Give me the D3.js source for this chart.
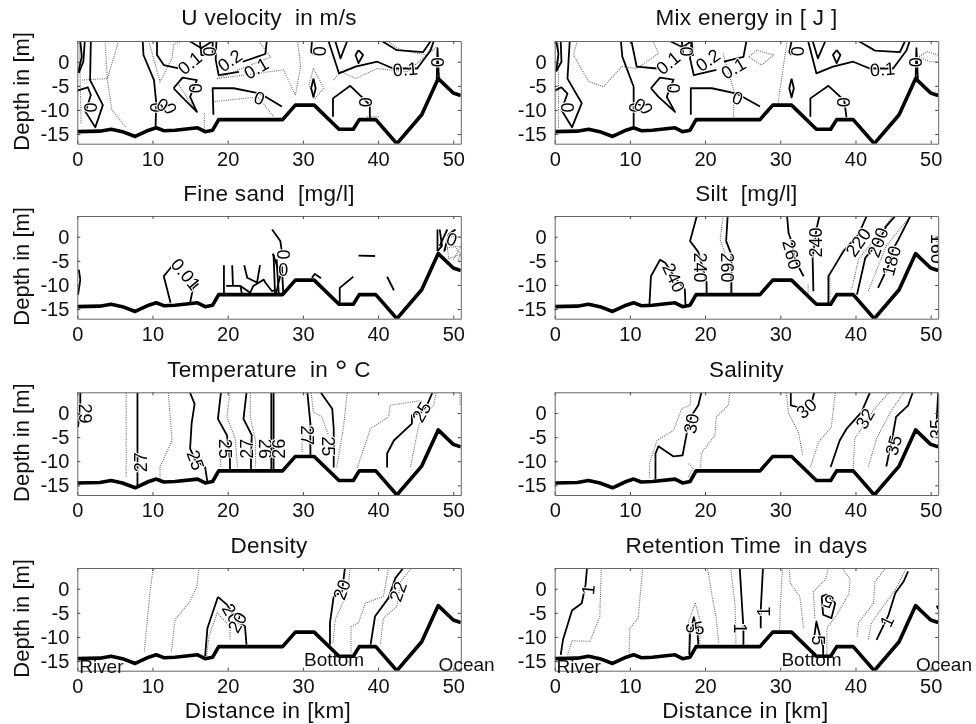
<!DOCTYPE html>
<html>
<head>
<meta charset="utf-8">
<script src="https://cdnjs.cloudflare.com/ajax/libs/d3/7.8.5/d3.min.js"></script>
<style type='text/css'>
  html, body { margin: 0; padding: 0; background: #fff; }
  svg { display: block; filter: blur(0.45px); }
  text { font-family: "Liberation Sans", Arial, sans-serif; fill: #111; }
  .title { font-size: 22.5px; letter-spacing: 0.3px; text-anchor: middle; white-space: pre; }
  .ylab { font-size: 22px; text-anchor: middle; }
  .xlab { font-size: 22.5px; letter-spacing: 0.4px; text-anchor: middle; }
  .tick text { font-size: 20px; }
  .domain { stroke: #666; }
  .tick line { stroke: #444; }
  .solid { fill: none; stroke: #000; stroke-width: 1.8; stroke-linejoin: round; }
  .dotted { fill: none; stroke: #666; stroke-width: 1.1; stroke-dasharray: 1 1.2; }
  .bed { fill: none; stroke: #000; stroke-width: 3.6; stroke-linejoin: round; }
  .clabel { font-size: 18px; text-anchor: middle; dominant-baseline: central; stroke: #fff; stroke-width: 2px; paint-order: stroke; fill: #000; }
  .place { font-size: 19px; }
</style>
</head>
<body>
<div id='chart'></div>
<script type='text/javascript'>
// river bed, same in every panel (km, m)
var bed = [[0,-14.5],[3,-14.4],[4.5,-14],[6,-14.5],[7.7,-15.5],[9.5,-14.2],[10.5,-13.7],[11.5,-14.3],[13,-14.2],[16,-13.7],[17,-14.5],[18,-14.2],[18.8,-12],[27.3,-12],[29,-9],[31.5,-9],[34.8,-14],[36.7,-14],[37.5,-12],[39.7,-12],[42.5,-17],[45.8,-11],[48,-3.5],[50,-6.5],[51,-7]];

// contours: km, depth
var uSolid = [
  [[0.4,4.3],[0.6,1],[0.1,-2.3]],
  [[1,4.3],[0.8,0],[0.2,-2.3]],
  [[1.8,4.3],[1.7,-3.8],[3.4,-9],[2.4,-13.6],[1.1,-10.4],[1.8,-6.9],[1.4,-5.3],[0,-6]],
  [[8.7,4.3],[8.8,1.4],[10.2,-3.8],[10.5,-8.6],[10.4,-13.8]],
  [[10.6,4.3],[10.6,1.4],[11.5,-0.7],[13.5,-1.4]],
  [[12.8,-5.5],[14,-3.3],[15.9,-3.8],[15,-7.3],[15.9,-10.4],[13.9,-7.3],[12.8,-5.5]],
  [[14.9,4.3],[16.5,2.8],[18,4.3]],
  [[16.3,4.3],[16.5,1.4],[18,1.4],[18,4.3]],
  [[18.5,4.3],[18.4,0.5],[18.8,-2.8],[21.5,-2.1]],
  [[25.2,4.3],[25,1.6],[22,0]],
  [[18.1,-11],[18,-5.5],[20.8,-5.5],[24.3,-6.6],[27.2,-9.3]],
  [[33.4,4.3],[34.8,-2.4],[37,-1],[39.9,0],[42,-1.4],[45.2,-1.4],[47,2.4],[47.4,4.3]],
  [[34.3,4.3],[35,0.7],[35.9,4.3]],
  [[40.5,4.3],[42.5,2.4],[46,2],[47,4.3]],
  [[37.4,2.4],[38,1.4],[37.4,-0.3],[37,1.4],[37.4,2.4]],
  [[31.2,4.3],[31.1,2],[31.6,1.4]],
  [[31.4,-3.5],[31.7,-5.5],[31.4,-7.3],[31.1,-5.5],[31.4,-3.5]],
  [[34,-11.4],[34,-7.6],[36.3,-5],[38.3,-8],[38.9,-9],[38.9,-11.8]],
  [[47.8,-3.5],[47.9,2.8],[48.1,-3.5]]
];
var uDotted = [
  [[0.3,4.3],[0.4,-5.5],[0.5,-12.8]],
  [[3.7,4.3],[4,-3.8],[4.6,-10],[6.4,-13.5]],
  [[0.6,-3.8],[4,-3.5],[5.5,4.3]],
  [[9.5,4.3],[11,-4.1],[12.6,0.7],[12.8,3.5],[13.9,4.3]],
  [[13.4,-4.5],[14.8,-8],[16,-10.4]],
  [[16.9,-10.7],[16.9,-14.5]],
  [[18.6,-3.5],[27.4,-1.7],[29,-6.9],[29.7,-1],[29.3,4.3]],
  [[18,-8.3],[24,-7.3],[26.1,-11.4]],
  [[24.1,4.3],[25.7,1],[18.6,-3.5]],
  [[34.1,-3.8],[35,-2],[37,-3.5],[39.9,-1.4],[43.8,-2.1],[47.8,3.1]],
  [[31.4,-1.4],[32.8,-5.5],[31.6,-7.6],[30.8,-4.8],[31.4,-1.4]],
  [[41.2,4.3],[43,2.4],[46.5,1.4],[47.4,4.3]],
  [[38.5,-11.4],[40.3,-11.4]]
];
var uLabels = [
  [1.7,-9.5,"0",90],[10.5,-9.5,"0",90],[12.3,-9.7,"0",65],[11.3,-9,"0",30],[15,-0.3,"0.1",-40],
  [15.6,-5.5,"0",90],[17.5,2.1,"0",90],[20.3,0.2,"0.2",-35],[23.8,-1.4,"0.1",-30],[24.2,-7.6,"0",20],
  [32.2,2.2,"0",90],[38.3,-8.4,"0",90],[43.6,-1.6,"0.1",-5],[47.8,-0.1,"0",90]
];

var mixSolid = [
  [[0.2,4.3],[0.5,1.7],[0.2,-2]],
  [[0.8,4.3],[0.9,0],[0.2,-2]],
  [[2,4.3],[1.7,-3.5],[3.6,-8.6],[2.3,-13.6],[0.9,-10],[1.7,-6.6],[0.9,-5.3],[0,-6]],
  [[8.8,4.3],[9,1],[10.5,-5.2],[10.5,-13.8]],
  [[10.2,4.3],[10.9,-1],[13.6,-1.4]],
  [[12.8,-5.5],[14,-3.3],[15.8,-3.7],[14.9,-7.3],[16,-10.4],[13.8,-7.3],[12.8,-5.5]],
  [[15.3,4.3],[17,3],[18.2,4.3]],
  [[16.9,4.3],[17.1,1.4],[18.4,1.4],[18.2,4.3]],
  [[18.2,4.3],[18,0.7],[18.5,-2.8],[21.5,-1.7]],
  [[25.5,4.3],[25.1,1],[22.5,0]],
  [[18.1,-11],[18.1,-5.5],[20.9,-5.5],[24.2,-6.6],[27.3,-9.3]],
  [[33.7,4.3],[34.8,-2.4],[37,-1],[39.7,0],[41.9,-1.4],[45,-1.4],[46.8,2.4],[47.2,4.3]],
  [[34.3,4.3],[35,0.7],[36,4.3]],
  [[40.4,4.3],[42.6,2.3],[45.9,2],[46.6,4.3]],
  [[37.5,2.4],[38,1.4],[37.5,-0.3],[37,1.4],[37.5,2.4]],
  [[31.5,4.3],[31.2,2],[31.5,1.4]],
  [[31.5,-3.5],[31.8,-5.5],[31.5,-7.4],[31.2,-5.5],[31.5,-3.5]],
  [[34,-11.4],[34,-7.6],[36.4,-5],[38.5,-8],[38.8,-11.5]],
  [[48,-3.5],[48.1,2.8],[48.3,-3.5]]
];
var mixDotted = [
  [[0.5,4.3],[0.5,-13.8]],
  [[3,4.3],[2.5,1.4],[4.5,-4.1],[6.5,-5.2],[8.9,-1],[10.9,-1.4],[13.8,1.7],[13.1,4.1]],
  [[22.4,1.7],[23.8,-5.9],[23.8,-11.4]],
  [[25.8,1],[27.5,-0.7],[29.1,1.4],[26.9,2.4],[25.8,1]],
  [[30.9,4.3],[29.7,-8.6]],
  [[51,1.4],[49.5,2.1],[48.4,1],[49.9,0],[51,0]]
];
var mixLabels = [
  [1.7,-9.5,"0",90],[10.7,-9.5,"0",90],[12.1,-9.7,"0",65],[11.3,-9,"0",30],[15.1,-0.3,"0.1",-40],
  [15.7,-5.5,"0",90],[17.5,2.1,"0",90],[20.4,0.3,"0.2",-35],[23.8,-1.4,"0.1",-30],[24.3,-7.6,"0",20],
  [32.2,2.2,"0",90],[38.3,-8.4,"0",90],[43.6,-1.6,"0.1",-5],[47.9,-0.1,"0",90]
];

var sandSolid = [
  [[0.2,-6.8],[0.4,-8.9],[0.1,-12]],
  [[12.4,-13.7],[11.5,-8.2],[12.8,-5.7]],
  [[15,-13.7],[15.4,-10.6],[16.1,-9.7]],
  [[19.5,-12],[19.5,-5.9]],
  [[20.6,-5.9],[20.7,-10.2]],
  [[22.2,-5.9],[22.6,-8.5],[23.9,-9.5],[24.3,-5.9]],
  [[19.8,-10.2],[21.7,-10.2],[23,-11.6],[23.4,-10.2],[24.8,-8.9],[25,-9.5],[25.9,-11.3],[26.3,-11]],
  [[21.7,-10.2],[21.9,-12]],
  [[26.1,-3.7],[26.3,-12]],
  [[26.5,-4.7],[26.8,-12]],
  [[27.2,-6.1],[27.4,-12]],
  [[26,-3.5],[27,-8],[26.4,-12]],
  [[25.9,1.5],[27,-0.9],[27.2,-3]],
  [[37.4,-3.9],[39.6,-4]],
  [[31.2,-8.5],[31.6,-7.7],[32.4,-8.6]],
  [[34.9,-13.7],[34.9,-10.6],[36.7,-8.3]],
  [[41.2,-8.3],[42.1,-11.1]],
  [[47.9,-3],[47.9,1.5]],
  [[48.2,1.5],[48.5,-1.9],[47.9,-3]],
  [[49.2,1.5],[48.2,-1.9]],
  [[50.3,1.5],[49.4,0.5],[48.8,-3]]
];
var sandDotted = [
  [[51,0],[49.4,0],[48.8,-3],[50,-1.5],[51,-3.7],[49.4,-4.5],[49.2,-2.2],[51,-2],[50,-4.8]],
  [[51,-3.7],[50.6,-5]]
];
var sandLabels = [
  [14.4,-7.8,"0.01",50],[27.3,-3.7,"0",90],[27.4,-6.8,"0",0],[49.8,-0.6,"0",20]
];

var siltSolid = [
  [[18.9,4.3],[18,-0.9],[19.1,-3.2],[19.6,-6],[20.2,-9.5],[20.2,-12]],
  [[12.6,-14],[12.8,-8.2],[14,-4.8],[14.7,-5.4],[16,-8.5],[17.3,-10.9],[17.4,-14.4]],
  [[23,4.3],[22.8,-0.9],[23.5,-3.7],[23.5,-9.5],[23.5,-12]],
  [[30.9,4.3],[31.1,0.8],[31.5,-1],[32,-5],[33.1,-8.2]],
  [[35.2,4.3],[34.8,1.5],[34.3,-4.4],[34.4,-11.3]],
  [[41.5,4.3],[40.4,0.5],[38.4,-3],[37.1,-6.4],[36.4,-8.2],[36.4,-14]],
  [[45.3,4.3],[44.1,2.2],[43,-1.2],[41.3,-4.4],[40.2,-12]],
  [[47.3,4.3],[45.7,-0.6],[45,-2.6],[44.4,-6],[43,-10.6]],
  [[50.8,0],[50.8,-1]]
];
var siltDotted = [
  [[22.4,4.3],[22,-0.6],[22.7,-3.7]],
  [[23.4,-9.5],[23.4,-12]],
  [[33.7,-9.9],[33.7,-12.3]],
  [[36.6,-8.2],[36.6,-14]],
  [[45,4.3],[40.4,-4.7],[39.5,-10.9]],
  [[47.3,4.3],[44.1,-1.9],[41.7,-11.3]]
];
var siltLabels = [
  [19.3,-6.4,"240",90],[15.8,-8.5,"240",65],[22.9,-6.4,"260",90],[31.5,-3.7,"260",75],
  [34.8,-1.2,"240",-90],[40.4,-1.2,"220",-55],[43,-1.2,"200",-70],[44.8,-5,"180",-75],[50.9,-2.5,"160",90]
];

var tempSolid = [
  [[0.4,4.2],[0.4,1.2],[0.1,-2.9]],
  [[8,4.2],[8,-8.4],[8,-11.9],[8,-15.4]],
  [[15,4.2],[15.6,1.9],[15.2,-2.2],[15,-7.4],[15.7,-9.8],[17,-11.2],[17.3,-14.3]],
  [[19.1,4.2],[18.7,-1.2],[19.9,-4.6],[20.3,-9.5],[20.3,-11.9]],
  [[22.5,4.2],[22.1,-1.2],[23.2,-4.6],[23.1,-9.5],[23.1,-11.9]],
  [[25.8,4.2],[25.8,-11.9]],
  [[26.1,4.2],[26.1,-11.9]],
  [[30.6,4.2],[31,-2.2],[31,-7],[31,-8.8]],
  [[32.4,4.2],[33.9,0.9],[34.1,-3.2],[34.1,-9.5],[34.1,-11.3]],
  [[47.2,4.2],[46.5,1.6],[45.8,0.2],[44.5,-0.5],[44.5,-2.2],[42.1,-5.7],[41.2,-8.4],[41.2,-11.3]]
];
var tempDotted = [
  [[6.5,4.2],[6.5,-13.3]],
  [[12.1,4.2],[12.6,-5.7],[11,-11.2],[11,-14]],
  [[20.3,4.2],[19.9,-0.8],[21,-5.3],[21.3,-11.2]],
  [[23,4.2],[23,-0.8],[23.7,-5.7],[23.7,-11.3]],
  [[18.8,-6.4],[19.1,-11.2]],
  [[31.1,4.2],[31.4,0.2],[32.5,-0.8],[33.4,-4.6]],
  [[35.9,4.2],[35.4,-2.9],[34.5,-11.3]],
  [[29.9,-2.9],[29.9,-8.4]],
  [[45.8,2.6],[41.6,1.6],[41.4,-0.8],[39,-3.2],[37.2,-11.5]],
  [[47.7,4.2],[47.4,1.6],[45.4,-2.6],[44.3,-11.2]],
  [[50.9,4.2],[50.9,1.5]]
];
var tempLabels = [
  [1,-0.1,"29",90],[8.5,-10.2,"27",-90],[15.7,-9.8,"25",70],[19.7,-7.4,"25",90],[22.6,-7.4,"27",-90],
  [25,-7.4,"26",90],[26.8,-7.4,"26",-90],[30.5,-4.6,"27",90],[33.4,-6.9,"25",90],[45.8,0.2,"25",-60]
];

var salSolid = [
  [[19.5,4.2],[19.1,1.6],[18.2,-0.5],[17.6,-3.9],[17,-8.8],[15.8,-9],[13.8,-6.9],[13.4,-8.4],[13.4,-13.8]],
  [[31.4,4.2],[31.4,1.6],[32.4,1.2]],
  [[34.5,4.2],[34.2,2.3]],
  [[41.9,4.2],[40.8,0.2],[38.8,-3.3],[37.9,-5.7],[36.7,-11.2]],
  [[47.6,4.2],[47,1.6],[45.4,-0.8],[45,-4.3],[44.4,-8.8],[44.1,-11.1]],
  [[51,4.2],[50.8,-1.5]]
];
var salDotted = [
  [[18.1,4.2],[18,1.6],[16.9,0.9],[15.8,-3.6],[13.6,-5.7],[12.6,-10.5],[12.6,-13.6]],
  [[23.3,4.2],[23.1,1.6],[21.5,-0.8],[21.3,-4.6],[19.5,-8.4],[19.4,-11.5]],
  [[17.8,-10.5],[18.4,-11.5],[17.8,-13.3]],
  [[30.8,4.2],[31.1,-0.1],[32.4,-3.9],[33,-8.8]],
  [[37.3,4.2],[36.8,-2.9],[35.1,-6],[34,-11.2]],
  [[44.4,4.2],[42.4,0.6],[39.9,-5.3],[39.7,-11.5]],
  [[46.4,4.2],[44.8,0.6],[42.8,-5.3],[41.7,-11.2]]
];
var salLabels = [
  [18.2,-2.2,"30",-80],[33.5,0.9,"30",-40],[41.3,-1.2,"32",-60],[45.1,-6.7,"35",-75],[50.9,-3.3,"35",-90]
];

var denSolid = [
  [[18.7,-1.7],[17.3,-8.2],[17,-14]],
  [[18.7,-1.7],[19.9,-3.3],[21.4,-7],[22.3,-7.8],[22.5,-11.6]],
  [[35.6,4.4],[35.2,-0.6],[34.1,-1.6],[33.6,-7.1],[33.6,-11.6]],
  [[43.4,4.4],[42.3,2.2],[41.4,-1.9],[39.6,-5.7],[39,-11.6]]
];
var denDotted = [
  [[10.1,4.4],[9.7,-0.2],[8.9,-13.3]],
  [[16.2,4.4],[15.9,0.5],[15,-2.6],[13,-6.4],[12.5,-13.3]],
  [[18.6,-5],[17.5,-9.9],[17.2,-14]],
  [[18.6,-5],[20.3,-7.8],[20.3,-10.6]],
  [[36.3,4.4],[35.9,-0.9],[34.3,-6.4],[34,-11.3]],
  [[41.4,4.4],[40.7,-1.6],[38.3,-3],[37.4,-7.1],[36.4,-7.8],[36.4,-13.3]],
  [[44.5,4.4],[43,1.5],[42.5,-3.7],[40.7,-6.1],[40.3,-11.6]]
];
var denLabels = [
  [20.5,-5.2,"20",60],[21.3,-7,"20",-60],[35.2,-0.2,"20",-70],[42.7,-0.6,"22",-70]
];

var retSolid = [
  [[4.3,4.4],[4.1,0.8],[3.6,-3],[2.3,-4.5],[1.1,-10.6],[0.8,-13.7]],
  [[24.6,4.4],[25.1,-8.2],[25.1,-11.6]],
  [[27.7,4.4],[27.4,-4.4],[27.4,-8.2]],
  [[47,3.6],[46.4,1.5],[45.3,-0.9],[44.4,-5.4],[42.8,-10.6]],
  [[50.8,-3.5],[51,-4.2]],
  [[17.9,-13.7],[18,-9.2],[18.5,-5.9],[19,-9.2],[19.1,-11.6]],
  [[35.5,-1.6],[35.7,-5.4],[36.8,-6.1],[37.3,-3],[36.2,-1.2],[35.5,-1.6]],
  [[34.5,-10.2],[34.8,-6.8],[35.3,-9.9],[35.7,-12],[35.7,-14]]
];
var retDotted = [
  [[6.2,4.4],[6,-5.7],[4.7,-10.9],[2.3,-10.8],[1.7,-13.7]],
  [[11.7,4.4],[11.1,-6.1],[10,-8.2],[9.9,-13.3]],
  [[18.7,-3],[17.8,-6.8],[17.9,-13.7]],
  [[18.7,-3],[19.3,-6.4],[19.3,-11.3]],
  [[20.3,4.4],[20.9,-1.2],[21.5,-6.4],[21.8,-11.3]],
  [[23.4,4.4],[24,-3.7],[24.1,-11.3]],
  [[30.3,4.4],[30,-3.7],[29.9,-8.5]],
  [[31.2,4.4],[31.3,1.2],[32.6,-1.6],[33.1,-8.2]],
  [[36.4,4.4],[36,1.9],[34.4,-0.6],[34.6,-6.4]],
  [[38.2,4.4],[39.3,1.9],[39.1,-1.2],[37.5,-5.4],[36.2,-8.2],[36.2,-13.7]],
  [[44.1,4.4],[42.6,1.5],[42.4,-3],[40.4,-7.1],[40.2,-10]],
  [[46.8,4.4],[45.3,-0.2],[42.1,-7.1],[41.7,-10.6]]
];
var retLabels = [
  [4.5,-0.2,"1",-85],[24.6,-8.2,"1",90],[27.8,-4.7,"1",-90],[44.2,-6.8,"1",-65],
  [18.2,-8.2,"5",90],[19.2,-8.2,"5",-10],[36.4,-2.6,"5",200],[35,-10.7,"5",90]
];

var titles = ["U velocity  in m/s", "Mix energy in [ J ]", "Fine sand  [mg/l]", "Silt  [mg/l]", "Temperature  in \u00b0 C", "Salinity", "Density", "Retention Time  in days"];
var solids = [uSolid, mixSolid, sandSolid, siltSolid, tempSolid, salSolid, denSolid, retSolid];
var dotteds = [uDotted, mixDotted, sandDotted, siltDotted, tempDotted, salDotted, denDotted, retDotted];
var labels = [uLabels, mixLabels, sandLabels, siltLabels, tempLabels, salLabels, denLabels, retLabels];
var xTicks = [0, 10, 20, 30, 40, 50];
var yTicks = [0, -5, -10, -15];
var places = [["River", 0.25, -17.5], ["Bottom", 30.15, -16.1], ["Ocean", 48.05, -17.1]];

var colLeft = [77.3, 554.7];
var rowTop = [41, 216, 392.3, 568];
var panelW = 383.5, panelH = 102.7;
var titleY = [25, 201, 377, 553];

var svg = d3.select('#chart').append('svg').attr('width', 976).attr('height', 724);
var x = d3.scaleLinear().domain([0, 51]).range([0, panelW]);
var y = d3.scaleLinear().domain([-17, 4.3]).range([panelH, 0]);
var line = d3.line().x(function(d) { return x(d[0]); }).y(function(d) { return y(d[1]); });

titles.forEach(function(title, i) {
  var col = i % 2, row = Math.floor(i / 2);
  var g = svg.append('g').attr('transform', 'translate(' + colLeft[col] + ',' + rowTop[row] + ')');
  var clipId = 'clip' + i;
  g.append('clipPath').attr('id', clipId).append('rect').attr('width', panelW).attr('height', panelH);

  var inner = g.append('g').attr('clip-path', 'url(#' + clipId + ')');
  inner.selectAll('path.dotted').data(dotteds[i]).enter().append('path')
    .attr('class', 'dotted').attr('d', line);
  inner.selectAll('path.solid').data(solids[i]).enter().append('path')
    .attr('class', 'solid').attr('d', line);
  inner.selectAll('text.clabel').data(labels[i]).enter().append('text')
    .attr('class', 'clabel')
    .attr('transform', function(d) { return 'translate(' + x(d[0]) + ',' + y(d[1]) + ') rotate(' + d[3] + ')'; })
    .text(function(d) { return d[2]; });
  inner.append('path').datum(bed).attr('class', 'bed').attr('d', line);

  // box with inward ticks on all four sides
  var blank = function() { return ''; };
  g.append('g').attr('transform', 'translate(0,' + panelH + ')')
    .call(d3.axisBottom(x).tickValues(xTicks).tickSize(-3).tickPadding(8).tickSizeOuter(0));
  g.append('g').call(d3.axisTop(x).tickValues(xTicks).tickSize(-3).tickFormat(blank).tickSizeOuter(0));
  g.append('g')
    .call(d3.axisLeft(y).tickValues(yTicks).tickSize(-3).tickPadding(8).tickSizeOuter(0).tickFormat(function(d) { return String(d); }));
  g.append('g').attr('transform', 'translate(' + panelW + ',0)')
    .call(d3.axisRight(y).tickValues(yTicks).tickSize(-3).tickFormat(blank).tickSizeOuter(0));
  g.selectAll('.domain').attr('fill', 'none');
  g.selectAll('.tick text').attr('font-family', null).attr('font-size', null);

  // the degree sign sits raised and large in the temperature title
  var t = svg.append('text').attr('class', 'title')
    .attr('x', colLeft[col] + panelW / 2).attr('y', titleY[row]);
  title.split('\u00b0').forEach(function(part, k) {
    if (k > 0) t.append('tspan').attr('font-size', 32).attr('dy', 5).text('\u00b0');
    t.append('tspan').attr('dy', k > 0 ? -5 : 0).text(part);
  });

  if (col === 0) {
    svg.append('text').attr('class', 'ylab')
      .attr('transform', 'translate(29,' + (rowTop[row] + panelH / 2 - 1) + ') rotate(-90)')
      .text('Depth in [m]');
  }
  if (row === 3) {
    svg.append('text').attr('class', 'xlab')
      .attr('x', colLeft[col] + panelW / 2 - 1).attr('y', 718).text('Distance in [km]');
    g.selectAll('text.place').data(places).enter().append('text')
      .attr('class', 'place')
      .attr('x', function(d) { return x(d[1]); })
      .attr('y', function(d) { return y(d[2]); })
      .text(function(d) { return d[0]; });
  }
});
</script>
</body>
</html>
